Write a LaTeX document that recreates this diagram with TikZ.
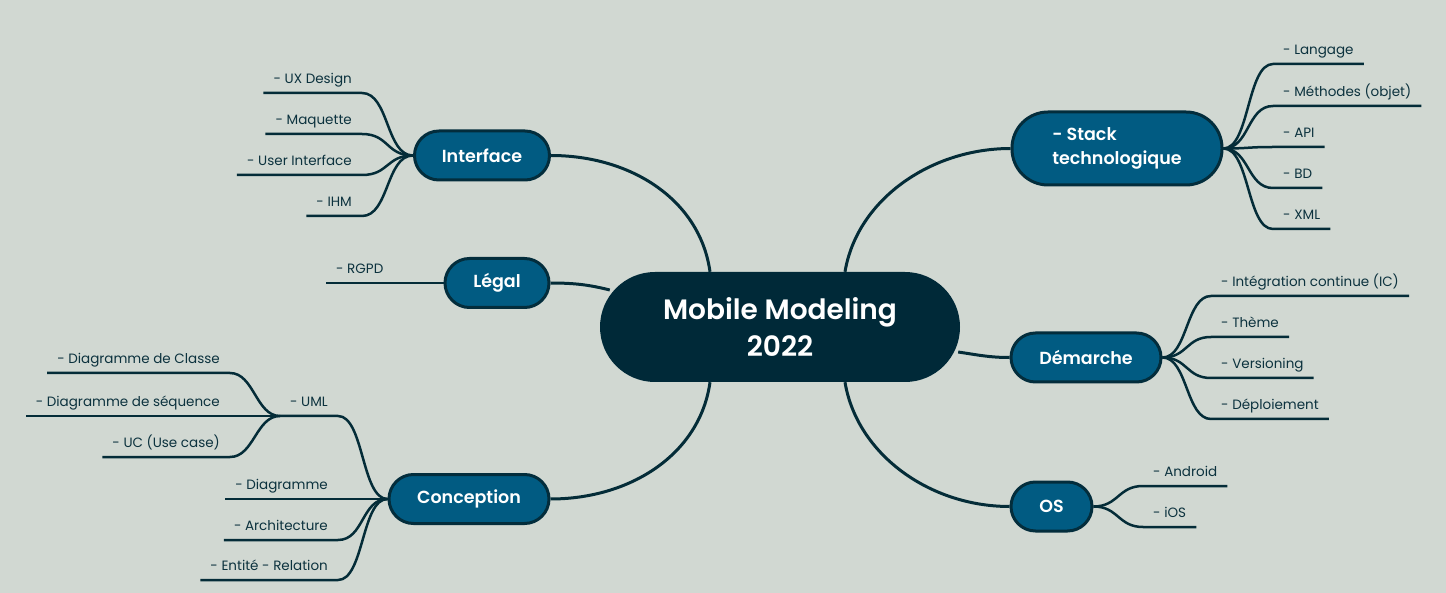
\documentclass[tikz,border=0pt]{standalone}
\usepackage{fontspec}
\setmainfont{Poppins}[BoldFont={Poppins SemiBold}]
\usetikzlibrary{calc}
\definecolor{bgcol}{RGB}{209,216,210}
\definecolor{centralfill}{RGB}{0,41,56}
\definecolor{branchfill}{RGB}{1,91,130}
\definecolor{branchdraw}{RGB}{3,45,60}
\definecolor{linecol}{RGB}{4,44,56}
\definecolor{leafcol}{RGB}{12,50,62}
\pgfdeclarelayer{back}
\pgfdeclarelayer{edges}
\pgfsetlayers{back,edges,main}
\tikzset{
  centralbox/.style={fill=centralfill, text=white, rounded corners=55pt,
    minimum width=360pt, minimum height=110pt, align=center,
    font=\bfseries\fontsize{28}{37}\selectfont},
  branchbox/.style={fill=branchfill, draw=branchdraw, line width=3pt, text=white,
    rounded corners=24.5pt, minimum height=49pt,
    font=\bfseries\fontsize{17.5}{24}\selectfont},
  leafbox/.style={text=leafcol, inner xsep=10pt, inner ysep=5pt,
    text height=10pt, text depth=4pt, font=\fontsize{13.5}{16}\selectfont},
  mainedge/.style={draw=linecol, line width=3pt},
  leafedge/.style={draw=linecol, line width=2.5pt},
}
\begin{document}
\begin{tikzpicture}[x=1pt,y=-1pt]
\begin{pgfonlayer}{back}
\fill[bgcol] (0,0) rectangle (1446,593);
\end{pgfonlayer}
\useasboundingbox (0,0) rectangle (1446,593);

% central and branches
\node[centralbox] (c) at (780,327) {Mobile Modeling\\2022};
\node[branchbox, minimum width=135pt] (interface) at (482,155.5) {Interface};
\node[branchbox, minimum width=104pt] (legal) at (497,283) {Légal};
\node[branchbox, minimum width=160pt] (conception) at (469,499) {Conception};
\node[branchbox, minimum width=210pt, minimum height=73pt, rounded corners=36pt, align=left] (stack) at (1117,148.5) {- Stack\\technologique};
\node[branchbox, minimum width=150pt] (demarche) at (1086,357.5) {Démarche};
\node[branchbox, minimum width=81pt] (os) at (1051.5,506.5) {OS};

% leaves: Interface
\node[leafbox, anchor=south east] (ux) at (362,93) {- UX Design};
\node[leafbox, anchor=south east] (maq) at (362,134) {- Maquette};
\node[leafbox, anchor=south east] (ui) at (362,175) {- User Interface};
\node[leafbox, anchor=south east] (ihm) at (362,216) {- IHM};
% Légal
\node[leafbox, anchor=south west] (rgpd) at (326,283) {- RGPD};
% Conception
\node[leafbox, anchor=south east] (uml) at (338,416) {- UML};
\node[leafbox, anchor=south east] (diag) at (338,499) {- Diagramme};
\node[leafbox, anchor=south east] (archi) at (338,540) {- Architecture};
\node[leafbox, anchor=south east] (entite) at (338,580) {- Entité - Relation};
\node[leafbox, anchor=south east] (classe) at (230,373) {- Diagramme de Classe};
\node[leafbox, anchor=south east] (seq) at (230,416) {- Diagramme de séquence};
\node[leafbox, anchor=south east] (uc) at (230,457) {- UC (Use case)};
% Stack
\node[leafbox, anchor=south west] (lang) at (1273,64) {- Langage};
\node[leafbox, anchor=south west] (meth) at (1273,106) {- Méthodes (objet)};
\node[leafbox, anchor=south west] (api) at (1273,147) {- API};
\node[leafbox, anchor=south west] (bd) at (1273,188) {- BD};
\node[leafbox, anchor=south west] (xml) at (1273,229) {- XML};
% Démarche
\node[leafbox, anchor=south west] (ic) at (1211,296) {- Intégration continue (IC)};
\node[leafbox, anchor=south west] (theme) at (1211,337) {- Thème};
\node[leafbox, anchor=south west] (vers) at (1211,378) {- Versioning};
\node[leafbox, anchor=south west] (depl) at (1211,419) {- Déploiement};
% OS
\node[leafbox, anchor=south west] (android) at (1143,486) {- Android};
\node[leafbox, anchor=south west] (ios) at (1143,527) {- iOS};

\begin{pgfonlayer}{edges}
% main edges
\draw[mainedge] ($(c.north)+(-70,0)$) .. controls +(-10,-72) and +(80,0) .. (interface.east);
\draw[mainedge] ($(c.west)+(10,-37)$) .. controls +(-20,-5) and +(25,0) .. (legal.east);
\draw[mainedge] ($(c.south)+(-70,0)$) .. controls +(-10,72) and +(80,0) .. (conception.east);
\draw[mainedge] ($(c.north)+(65,0)$) .. controls +(12,-72) and +(-80,0) .. (stack.west);
\draw[mainedge] ($(c.east)+(-2,25)$) .. controls +(20,3) and +(-20,0) .. (demarche.west);
\draw[mainedge] ($(c.south)+(65,0)$) .. controls +(12,72) and +(-80,0) .. (os.west);

% Interface leaves
\foreach \l in {ux,maq,ui,ihm}
  \draw[leafedge] (interface.west) .. controls +(-27,0) and +(27,0) .. (\l.south east) -- (\l.south west);
% Légal
\draw[leafedge] (legal.west) -- (rgpd.south west);
% Conception
\foreach \l in {uml,diag,archi,entite}
  \draw[leafedge] (conception.west) .. controls +(-26,0) and +(26,0) .. (\l.south east) -- (\l.south west);
\foreach \l in {classe,seq,uc}
  \draw[leafedge] (uml.south west) .. controls +(-24,0) and +(24,0) .. (\l.south east) -- (\l.south west);
% Stack
\foreach \l in {lang,meth,api,bd,xml}
  \draw[leafedge] (stack.east) .. controls +(26,0) and +(-26,0) .. (\l.south west) -- (\l.south east);
% Démarche
\foreach \l in {ic,theme,vers,depl}
  \draw[leafedge] (demarche.east) .. controls +(25,0) and +(-25,0) .. (\l.south west) -- (\l.south east);
% OS
\foreach \l in {android,ios}
  \draw[leafedge] (os.east) .. controls +(25,0) and +(-25,0) .. (\l.south west) -- (\l.south east);
\end{pgfonlayer}
\end{tikzpicture}
\end{document}
